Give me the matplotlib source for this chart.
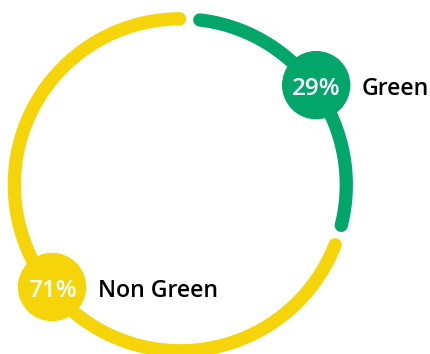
import numpy as np
import matplotlib.pyplot as plt

labels = ["Green", "Non Green"]
values = [29, 71]
colors = ["#03A66A", "#F5D50A"]

plt.rcParams['font.family'] = ['Open Sans', 'DejaVu Sans']

fig = plt.figure(figsize=(4.30, 3.54), dpi=100)
ax = fig.add_axes([0, 0, 1, 1])
ax.set_xlim(0, 430)
ax.set_ylim(354, 0)
ax.set_aspect('equal')
ax.axis('off')

# ring geometry (pixel units)
cx, cy, r = 180.3, 184.8, 166
start = 3.25      # degrees clockwise from top where the first gap sits
half_gap = 3.5
lw = 13.3 * 72 / 100
# badges sit a bit off the arc middle
badge_shift = [-1.7, -4.0]
badge_r = [168.5, 164]

total = sum(values)
a0 = start
for i, (lab, val, col) in enumerate(zip(labels, values, colors)):
    span = 360 * val / total
    th = np.radians(np.linspace(a0 + half_gap, a0 + span - half_gap, 200))
    x = cx + r * np.sin(th)
    y = cy - r * np.cos(th)
    ax.plot(x, y, color=col, lw=lw, solid_capstyle='round')

    mid = np.radians(a0 + span / 2 + badge_shift[i])
    mx = cx + badge_r[i] * np.sin(mid)
    my = cy - badge_r[i] * np.cos(mid)
    ax.add_patch(plt.Circle((mx, my), 33.5, color=col, zorder=3))
    ax.text(mx, my + 10, f"{val}%", color="white", fontsize=17.5,
            fontweight='semibold', ha='center', va='baseline', zorder=4)
    ax.text(mx + 45.5, my + 10, lab, color="black", fontsize=16.7,
            fontweight='semibold', ha='left', va='baseline')
    a0 += span

fig.savefig("out.png", dpi=100)
